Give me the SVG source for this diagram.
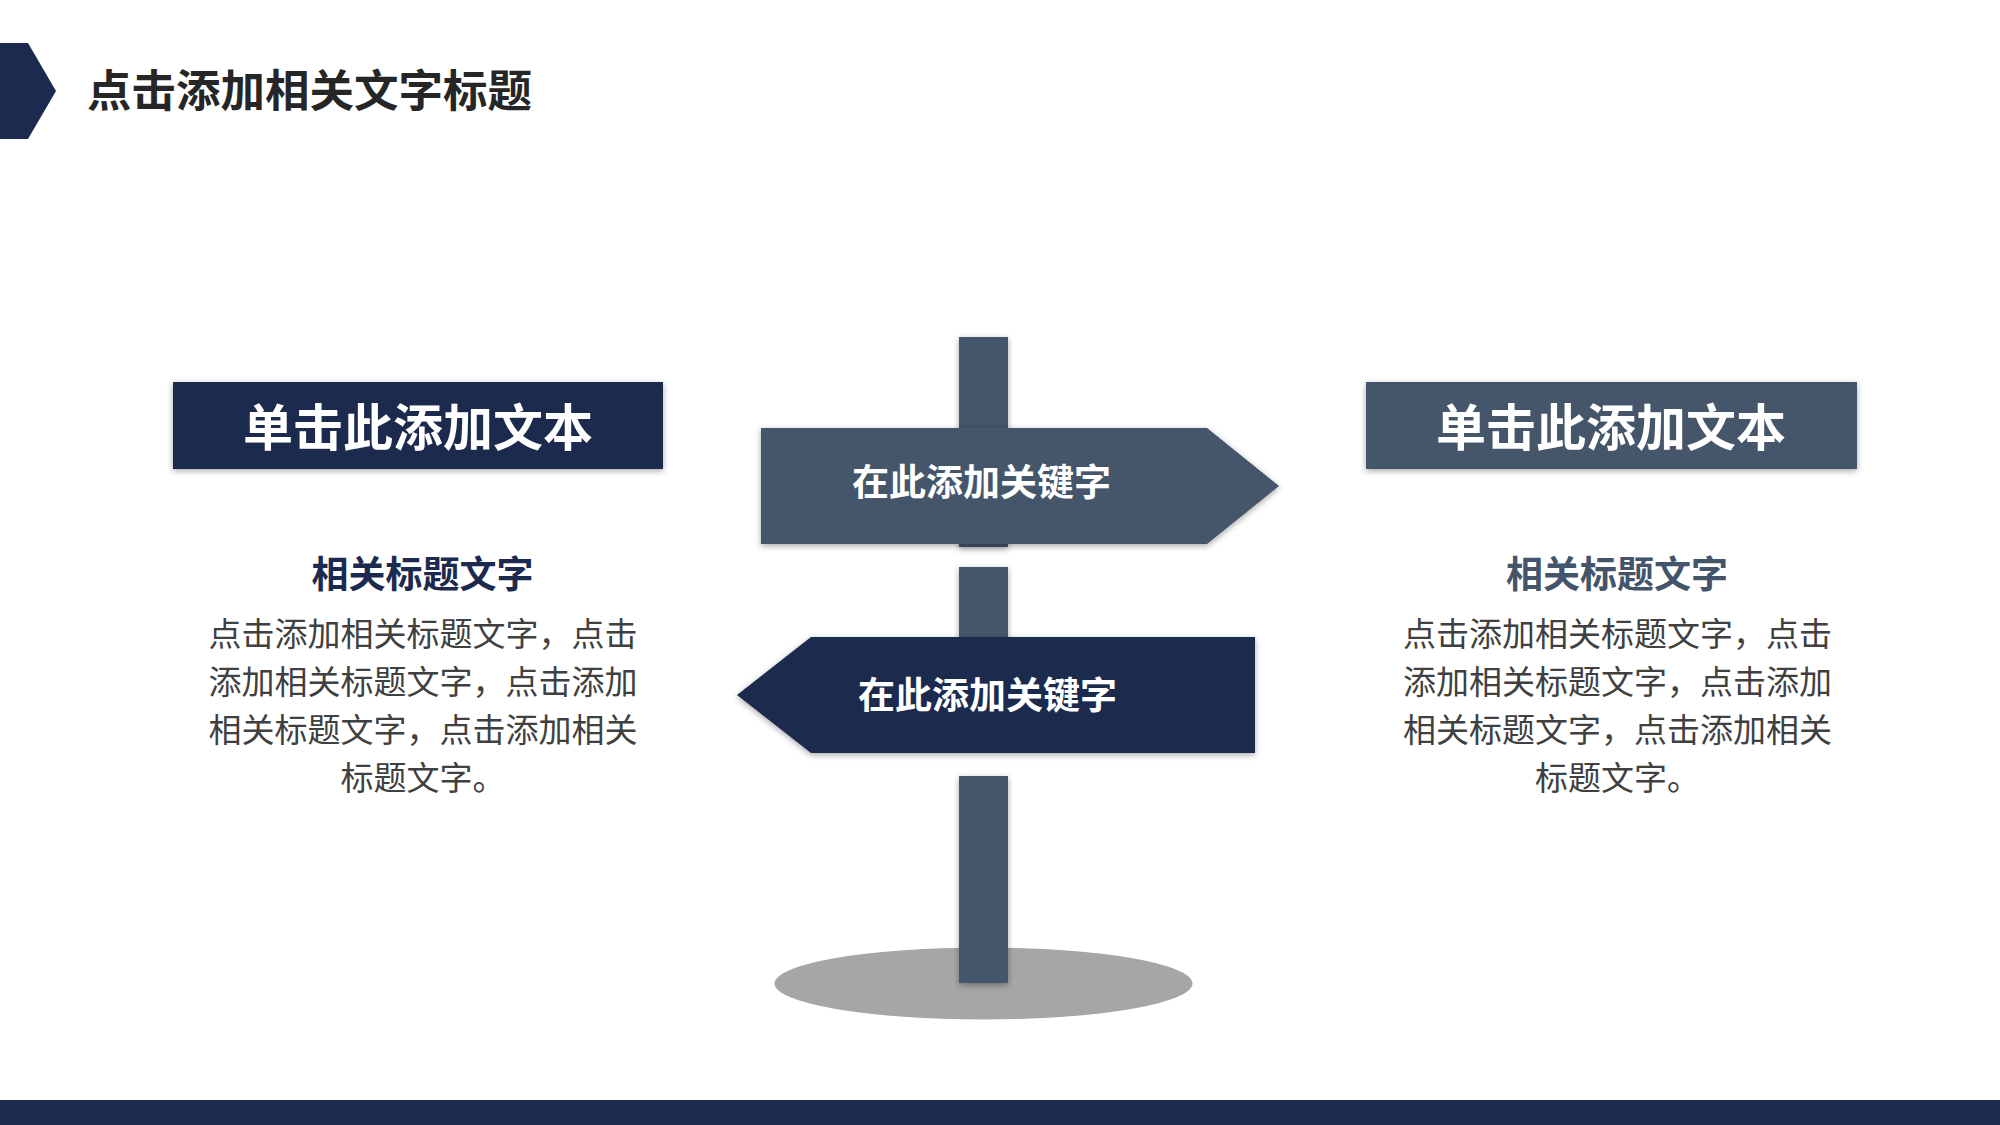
<svg xmlns="http://www.w3.org/2000/svg" width="2000" height="1125" viewBox="0 0 2000 1125">
  <defs>
    <filter id="sh" x="-10%" y="-10%" width="120%" height="130%">
      <feDropShadow dx="0" dy="2" stdDeviation="3" flood-color="#000000" flood-opacity="0.35"/>
    </filter>
  </defs>
  <style>
    text { font-family: "Noto Sans CJK SC", "Noto Sans", sans-serif; }
    .navy { fill: #1B2A4E; }
    .slate { fill: #44546A; }
    .title { font-size: 44.5px; font-weight: 700; fill: #262626; }
    .boxtxt { font-size: 50px; font-weight: 700; fill: #FFFFFF; text-anchor: middle; }
    .sub { font-size: 37px; font-weight: 700; text-anchor: middle; }
    .body { font-size: 33px; fill: #404040; text-anchor: middle; }
    .sign { font-size: 37px; font-weight: 700; fill: #FFFFFF; text-anchor: middle; }
  </style>
  <rect width="2000" height="1125" fill="#FFFFFF"/>

  <g id="header">
    <polygon class="navy" points="0,43 28,43 56,91 28,139 0,139"/>
    <text class="title" x="87" y="107">点击添加相关文字标题</text>
  </g>

  <g id="footer">
    <rect class="navy" x="0" y="1100" width="2000" height="25"/>
  </g>

  <g id="signpost">
    <ellipse cx="983.5" cy="983.5" rx="209" ry="36" fill="#A6A6A6"/>
    <rect id="post-top" class="slate" x="959" y="337" width="49" height="210" filter="url(#sh)"/>
    <rect id="post-mid" class="slate" x="959" y="567" width="49" height="140" filter="url(#sh)"/>
    <rect id="post-bottom" class="slate" x="959" y="776" width="49" height="207" filter="url(#sh)"/>
  </g>

  <g id="sign-right">
    <polygon class="slate" points="761,428 1207,428 1279,486 1207,544 761,544" filter="url(#sh)"/>
    <text class="sign" x="981.5" y="496">在此添加关键字</text>
  </g>

  <g id="sign-left">
    <polygon class="navy" points="811,637 1255,637 1255,753 811,753 737,695" filter="url(#sh)"/>
    <text class="sign" x="987.5" y="709">在此添加关键字</text>
  </g>

  <g id="left-card">
    <rect class="navy" x="173" y="382" width="490" height="87" filter="url(#sh)"/>
    <text class="boxtxt" x="418" y="446">单击此添加文本</text>
    <text class="sub" x="422.5" y="588" fill="#1B2A4E">相关标题文字</text>
    <text class="body" x="423" y="646">点击添加相关标题文字，点击</text>
    <text class="body" x="423" y="694">添加相关标题文字，点击添加</text>
    <text class="body" x="423" y="742">相关标题文字，点击添加相关</text>
    <text class="body" x="423" y="790">标题文字。</text>
  </g>

  <g id="right-card">
    <rect class="slate" x="1366" y="382" width="491" height="87" filter="url(#sh)"/>
    <text class="boxtxt" x="1611" y="446">单击此添加文本</text>
    <text class="sub" x="1617" y="588" fill="#44546A">相关标题文字</text>
    <text class="body" x="1617.5" y="646">点击添加相关标题文字，点击</text>
    <text class="body" x="1617.5" y="694">添加相关标题文字，点击添加</text>
    <text class="body" x="1617.5" y="742">相关标题文字，点击添加相关</text>
    <text class="body" x="1617.5" y="790">标题文字。</text>
  </g>

  <g id="connectors"></g>
</svg>
